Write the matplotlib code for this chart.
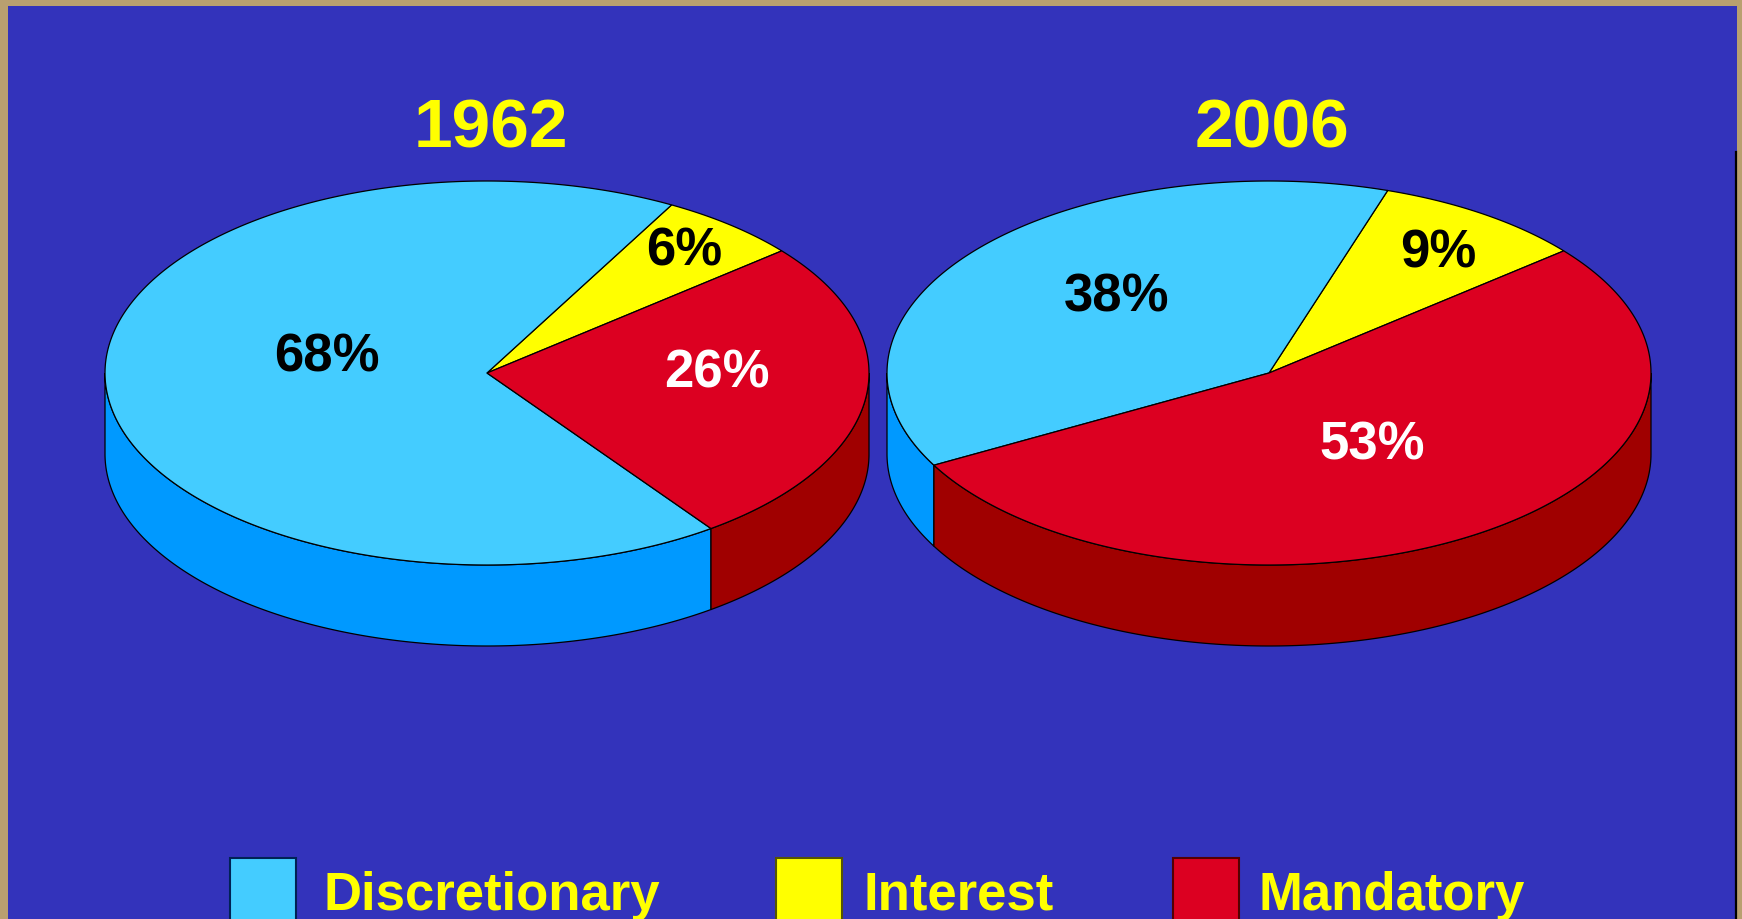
import numpy as np
import matplotlib
matplotlib.use("Agg")
import matplotlib.pyplot as plt
from matplotlib.patches import Polygon, Rectangle

# ---------------- data ----------------
years = ["1962", "2006"]
categories = ["Discretionary", "Interest", "Mandatory"]
shares_1962 = [68, 6, 26]
shares_2006 = [38, 9, 53]
value_labels_1962 = ["68%", "6%", "26%"]
value_labels_2006 = ["38%", "9%", "53%"]

# ---------------- style ----------------
top_colors = ["#44CCFF", "#FFFF00", "#DC0021"]
side_colors = ["#0099FF", "#B0B000", "#A00000"]
legend_edges = ["#002255", "#555500", "#550000"]
label_colors = ["black", "black", "white"]
bg_blue = "#3333BB"
tan = "#B9A070"
title_color = "#FFFF00"
FONT = ["Liberation Sans", "DejaVu Sans"]

W, H = 1742, 919
fig = plt.figure(figsize=(W / 100, H / 100), dpi=100, facecolor=tan)
ax = fig.add_axes([0, 0, 1, 1])
ax.set_xlim(0, W)
ax.set_ylim(H, 0)
ax.axis("off")

# background panel
ax.add_patch(Rectangle((8, 6), 1729, H, facecolor=bg_blue, edgecolor="none", zorder=0))
ax.plot([1735.5, 1735.5], [152, H], color="black", lw=1.6, zorder=1)

# pie geometry (layout)
centers = [(487, 373), (1269, 373)]
A, B, DEPTH = 382, 192, 81
START = 39.5  # angle where Mandatory begins (clockwise) / Interest begins (ccw)
ccw_order = [1, 0, 2]  # Interest, Discretionary, Mandatory going counter-clockwise

label_pos = [
    [(327, 371), (684, 266), (717, 388)],
    [(1117, 312), (1438, 267), (1372, 459)],
]


def ell(cx, cy, th, dy=0.0):
    t = np.radians(th)
    return cx + A * np.cos(t), cy - B * np.sin(t) + dy


def draw_pie(cx, cy, shares, labels, lpos):
    total = float(sum(shares))
    spans = {}
    t = START
    for idx in ccw_order:
        ext = 360.0 * shares[idx] / total
        spans[idx] = (t, t + ext)
        t += ext
    # side walls (front half only)
    for idx, (t1, t2) in spans.items():
        for k in (-360, 0, 360):
            lo, hi = max(t1, 180 + k), min(t2, 360 + k)
            if hi > lo:
                th = np.linspace(lo, hi, 200)
                xt, yt = ell(cx, cy, th)
                xb, yb = ell(cx, cy, th[::-1], DEPTH)
                pts = np.column_stack([np.concatenate([xt, xb]), np.concatenate([yt, yb])])
                ax.add_patch(Polygon(pts, closed=True, facecolor=side_colors[idx],
                                     edgecolor="black", lw=0.9, zorder=2))
    # top faces
    for idx, (t1, t2) in spans.items():
        th = np.linspace(t1, t2, 400)
        xa, ya = ell(cx, cy, th)
        pts = np.column_stack([np.concatenate([[cx], xa]), np.concatenate([[cy], ya])])
        ax.add_patch(Polygon(pts, closed=True, facecolor=top_colors[idx],
                             edgecolor="black", lw=0.9, zorder=3))
    for idx, lab in enumerate(labels):
        x, y = lpos[idx]
        ax.text(x, y, lab, ha="center", va="baseline", fontsize=38, fontweight="bold",
                color=label_colors[idx], family=FONT, zorder=5)


all_shares = [shares_1962, shares_2006]
all_labels = [value_labels_1962, value_labels_2006]
for i in range(2):
    cx, cy = centers[i]
    draw_pie(cx, cy, all_shares[i], all_labels[i], label_pos[i])

# titles
title_x = [491, 1272]
for i, yr in enumerate(years):
    ax.text(title_x[i], 148, yr, ha="center", va="baseline", fontsize=50,
            fontweight="bold", color=title_color, family=FONT, zorder=5)

# legend
box_x = [230, 776, 1173]
text_x = [323, 863, 1258]
for i, cat in enumerate(categories):
    ax.add_patch(Rectangle((box_x[i], 858), 66, 100, facecolor=top_colors[i],
                           edgecolor=legend_edges[i], lw=1.5, zorder=4))
    ax.text(text_x[i], 910, cat, ha="left", va="baseline", fontsize=38,
            fontweight="bold", color=title_color, family=FONT, zorder=5)

fig.savefig("out.png", dpi=100, facecolor=tan)
